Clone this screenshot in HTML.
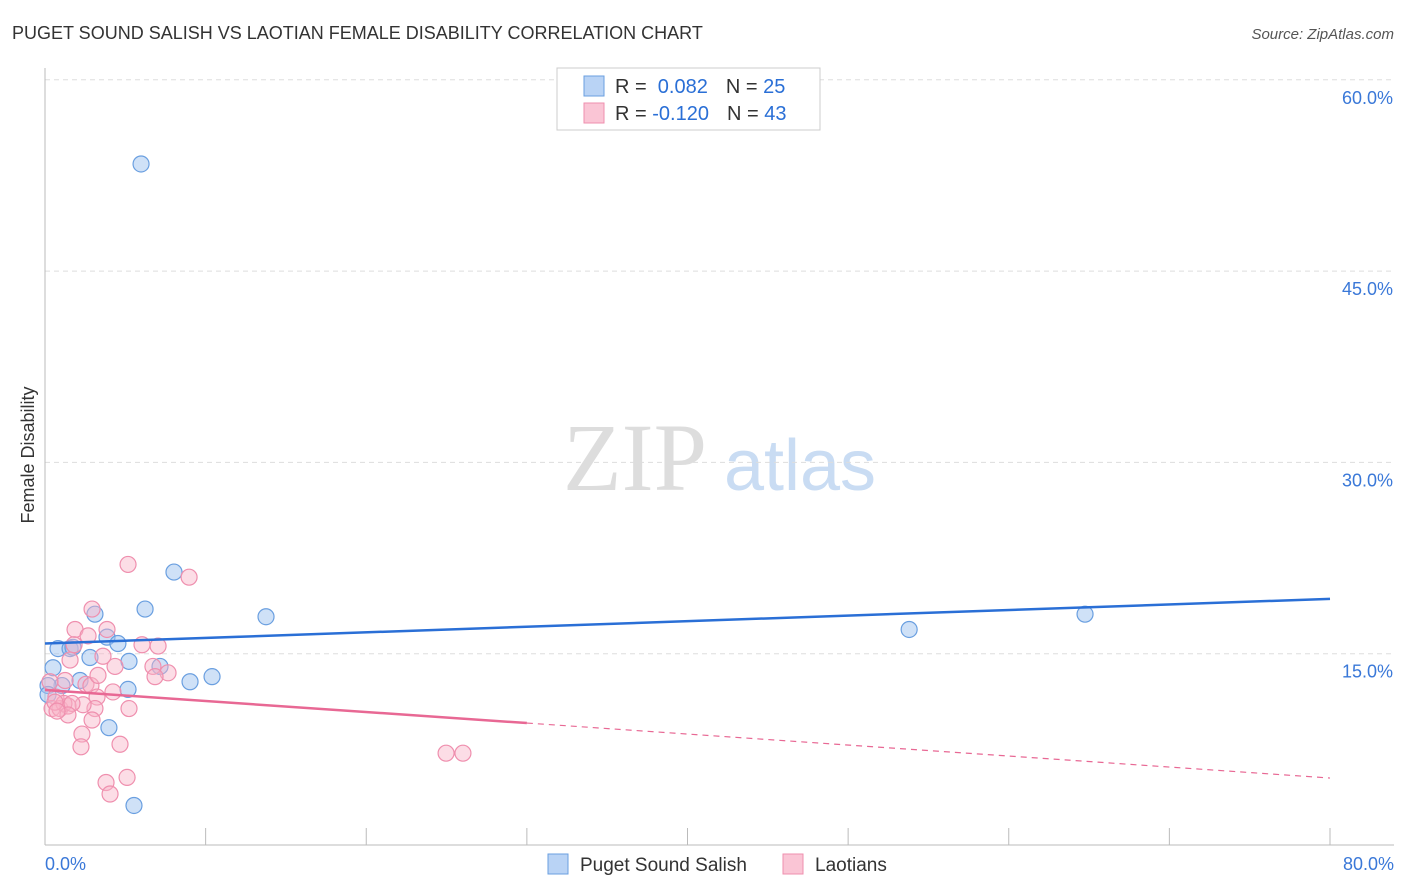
<!DOCTYPE html>
<html><head><meta charset="utf-8"><style>
body{margin:0;background:#fff;font-family:"Liberation Sans",sans-serif;}
svg{display:block}
</style></head><body>
<svg width="1406" height="892" xmlns="http://www.w3.org/2000/svg">
<text x="12" y="39" font-size="18" fill="#333">PUGET SOUND SALISH VS LAOTIAN FEMALE DISABILITY CORRELATION CHART</text>
<text x="1394" y="39" font-size="15" fill="#555" font-style="italic" text-anchor="end">Source: ZipAtlas.com</text>
<text x="34" y="455" font-size="18" fill="#333" text-anchor="middle" transform="rotate(-90 34 455)">Female Disability</text>
<text x="635" y="490" font-size="96" fill="#ddd" font-family="Liberation Serif,serif" text-anchor="middle">ZIP</text>
<text x="800" y="490" font-size="72" fill="#c9dcf3" text-anchor="middle">atlas</text>
<g id="grid"></g><g id="axes"></g><g id="marks"></g>
<g>
<rect x="557" y="68" width="263" height="62" fill="#fff" stroke="#ccc"/>
<rect x="584" y="76" width="20" height="20" fill="#b9d3f5" stroke="#6a9fe0"/>
<rect x="584" y="103" width="20" height="20" fill="#fac5d5" stroke="#ef8fae"/>
<text x="615" y="93" font-size="20" fill="#333">R = <tspan fill="#2a6fd6">&#160;0.082</tspan><tspan dx="18" fill="#333">N = </tspan><tspan fill="#2a6fd6">25</tspan></text>
<text x="615" y="120" font-size="20" fill="#333">R = <tspan fill="#2a6fd6">-0.120</tspan><tspan dx="18" fill="#333">N = </tspan><tspan fill="#2a6fd6">43</tspan></text>
</g>
<g>
<rect x="548" y="854" width="20" height="20" fill="#b9d3f5" stroke="#6a9fe0"/>
<text x="580" y="871" font-size="19" fill="#333">Puget Sound Salish</text>
<rect x="783" y="854" width="20" height="20" fill="#fac5d5" stroke="#ef8fae"/>
<text x="815" y="871" font-size="19" fill="#333">Laotians</text>
</g>
</svg>
<script>
const blueX=[5.98,8.03,6.23,3.11,13.76,53.8,64.75,3.86,4.54,0.81,1.56,1.74,2.80,5.23,7.16,0.50,10.40,9.03,2.18,1.06,0.19,5.17,3.98,5.54,0.19];
const blueY=[53.4,21.4,18.5,18.1,17.9,16.9,18.1,16.3,15.8,15.4,15.4,15.5,14.7,14.4,14.0,13.9,13.2,12.8,12.9,12.5,12.5,12.2,9.2,3.1,11.8];
const pinkX=[5.17,8.97,2.93,3.86,1.87,2.68,6.04,7.04,1.81,4.36,3.61,6.72,7.66,6.85,2.55,2.86,1.25,0.31,4.23,3.24,0.68,5.23,3.11,2.37,0.44,0.93,1.43,1.18,1.68,0.62,1.43,2.93,2.30,4.67,2.24,24.97,26.02,3.80,5.11,4.05,0.75,3.30,1.56];
const pinkY=[22.0,21.0,18.5,16.9,16.9,16.4,15.7,15.6,15.7,14.0,14.8,14.0,13.5,13.2,12.6,12.5,12.9,12.8,12.0,11.6,11.6,10.7,10.7,11.0,10.7,10.7,10.9,11.1,11.1,11.2,10.2,9.8,8.7,7.9,7.7,7.2,7.2,4.9,5.3,4.0,10.5,13.3,14.5];
const blueTrend=[15.8,19.3];
const pinkTrend=[12.15,5.25];
const pinkSolidEnd=30;
const yTicks=[15,30,45,60];
const xTicks=[0,10,20,30,40,50,60,70,80];
const NS="http://www.w3.org/2000/svg";
const xs=v=>45+v*(1285/80), ys=v=>845-v*(191.3/15);
function mk(parent,tag,attrs){const e=document.createElementNS(NS,tag);for(const k in attrs)e.setAttribute(k,attrs[k]);document.getElementById(parent).appendChild(e);return e;}
yTicks.forEach(t=>{
 const l=mk('grid','line',{x1:45,x2:1394,y1:ys(t),y2:ys(t),stroke:'#ddd','stroke-dasharray':'5,4'});
 
 
 const tx=mk('grid','text',{x:1393,y:ys(t)+24,'font-size':18,fill:'#3a78d8','text-anchor':'end'});
 tx.textContent=t.toFixed(1)+'%';
 
 
});
const ax=mk('axes','line',{x1:45,x2:1394,y1:845,y2:845,stroke:'#bbb'});


const ay=mk('axes','line',{x1:45,x2:45,y1:68,y2:845,stroke:'#bbb'});


xTicks.forEach(t=>{
 const l=mk('axes','line',{x1:xs(t),x2:xs(t),y1:828,y2:845,stroke:'#bbb'});
 
 
});
[[0,'start',45],[80,'end',1394]].forEach(([t,a,x])=>{
 const tx=mk('axes','text',{x:x,y:870,'font-size':18,fill:'#3a78d8','text-anchor':a});
 tx.textContent=t.toFixed(1)+'%';
 
 
});
blueX.forEach((x,i)=>{
 const c=mk('marks','circle',{cx:xs(x),cy:ys(blueY[i]),r:8,fill:'rgba(160,196,240,0.5)',stroke:'#6a9fe0','stroke-width':1.2});
 
 
});
pinkX.forEach((x,i)=>{
 const c=mk('marks','circle',{cx:xs(x),cy:ys(pinkY[i]),r:8,fill:'rgba(248,180,200,0.45)',stroke:'#ef8fae','stroke-width':1.2});
 
 
});
const pAt=x=>pinkTrend[0]+(pinkTrend[1]-pinkTrend[0])*x/80;
const bt=mk('marks','line',{x1:xs(0),y1:ys(blueTrend[0]),x2:xs(80),y2:ys(blueTrend[1]),stroke:'#2a6fd6','stroke-width':2.5});


const pt=mk('marks','line',{x1:xs(0),y1:ys(pAt(0)),x2:xs(pinkSolidEnd),y2:ys(pAt(pinkSolidEnd)),stroke:'#e86894','stroke-width':2.5});


const pd=mk('marks','line',{x1:xs(pinkSolidEnd),y1:ys(pAt(pinkSolidEnd)),x2:xs(80),y2:ys(pAt(80)),stroke:'#e86894','stroke-width':1.2,'stroke-dasharray':'6,5'});


</script>
</body></html>
